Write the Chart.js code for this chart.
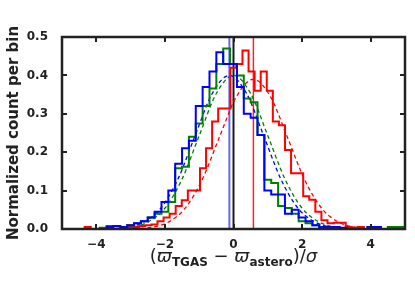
<!DOCTYPE html>
<html>
<head>
<meta charset="utf-8">
<script src="https://cdn.jsdelivr.net/npm/chart.js@4.4.1/dist/chart.umd.min.js"></script>
<style>
  html, body { margin: 0; padding: 0; background: #fff; }
</style>
</head>
<body>
<canvas id="chart" width="415" height="286"></canvas>
<script>
// bin edges: blue and green share a 0.2 grid, red has its own narrower bins
const oddEdges = [
  -5.1, -4.9, -4.7, -4.5, -4.3, -4.1, -3.9, -3.7, -3.5, -3.3,
  -3.1, -2.9, -2.7, -2.5, -2.3, -2.1, -1.9, -1.7, -1.5, -1.3,
  -1.1, -0.9, -0.7, -0.5, -0.3, -0.1, 0.1, 0.3, 0.5, 0.7,
  0.9, 1.1, 1.3, 1.5, 1.7, 1.9, 2.1, 2.3, 2.5, 2.7,
  2.9, 3.1, 3.3, 3.5, 3.7, 3.9, 4.1, 4.3, 4.5, 4.7, 4.9, 5.1
];
const redEdges = [
  -4.517, -4.340, -4.163, -3.986, -3.809, -3.632, -3.455, -3.278, -3.101, -2.924,
  -2.747, -2.570, -2.393, -2.216, -2.039, -1.862, -1.685, -1.508, -1.331, -1.154,
  -0.977, -0.800, -0.623, -0.446, -0.269, -0.092, 0.085, 0.262, 0.439, 0.616,
  0.793, 0.970, 1.147, 1.324, 1.501, 1.678, 1.855, 2.032, 2.209, 2.386,
  2.563, 2.740, 2.917, 3.094, 3.271, 3.448, 3.625, 3.802, 3.979, 4.156
];

// normalized counts per bin
const blueCounts = [
  0, 0, 0, 0, 0, 0, 0, 0, 0.005, 0.008,
  0.005, 0.01, 0.015, 0.02, 0.03, 0.045, 0.07, 0.10, 0.17, 0.21,
  0.23, 0.32, 0.37, 0.41, 0.46, 0.43, 0.43, 0.37, 0.30, 0.29,
  0.245, 0.10, 0.09, 0.09, 0.04, 0.05, 0.03, 0.02, 0.01, 0.005,
  0.005, 0.005, 0.003, 0, 0, 0, 0.005, 0.005, 0, 0, 0
];
const greenCounts = [
  0.005, 0, 0, 0, 0, 0, 0, 0.003, 0.008, 0.008,
  0.005, 0.01, 0.015, 0.02, 0.03, 0.04, 0.045, 0.07, 0.158, 0.162,
  0.24, 0.275, 0.32, 0.366, 0.43, 0.47, 0.43, 0.40, 0.34, 0.33,
  0.245, 0.128, 0.12, 0.06, 0.055, 0.04, 0.02, 0.015, 0.01, 0.005,
  0.005, 0.003, 0, 0, 0, 0, 0, 0.003, 0, 0.005, 0.005
];
const redCounts = [
  0, 0, 0.005, 0, 0, 0, 0, 0, 0.003, 0.005,
  0.005, 0.008, 0.01, 0.012, 0.02, 0.03, 0.04, 0.06, 0.075, 0.10,
  0.10, 0.158, 0.21, 0.28, 0.314, 0.314, 0.42, 0.43, 0.465, 0.41,
  0.36, 0.41, 0.36, 0.28, 0.27, 0.206, 0.145, 0.145, 0.085, 0.076,
  0.045, 0.023, 0.015, 0.016, 0.016, 0.005, 0.003, 0.005, 0
];

// dashed gaussian fits
const blueFitX = [-3.62, -3.12, -2.62, -2.12, -1.62, -1.12, -0.62, -0.12, 0.38, 0.88, 1.38, 1.88, 2.38, 2.88, 3.38];
const blueFitY = [0.001, 0.004, 0.018, 0.054, 0.13, 0.243, 0.353, 0.40, 0.353, 0.243, 0.13, 0.054, 0.018, 0.004, 0.001];
const greenFitX = [-3.5, -3.0, -2.5, -2.0, -1.5, -1.0, -0.5, 0.0, 0.5, 1.0, 1.5, 2.0, 2.5, 3.0, 3.5];
const greenFitY = [0.001, 0.004, 0.018, 0.054, 0.13, 0.243, 0.353, 0.40, 0.353, 0.243, 0.13, 0.054, 0.018, 0.004, 0.001];
const redFitX = [-2.92, -2.42, -1.92, -1.42, -0.92, -0.42, 0.08, 0.58, 1.08, 1.58, 2.08, 2.58, 3.08, 3.58, 4.08];
const redFitY = [0.001, 0.004, 0.017, 0.053, 0.127, 0.237, 0.344, 0.39, 0.344, 0.237, 0.127, 0.053, 0.017, 0.004, 0.001];

// vertical marker lines
const blueMean = -0.12;
const zeroLine = 0;
const redMean = 0.58;

const xTicks = [-4, -2, 0, 2, 4];
const yTicks = [0, 0.1, 0.2, 0.3, 0.4, 0.5];

function histPoints(edges, counts) {
  const pts = counts.map((v, i) => ({ x: edges[i], y: v }));
  pts.push({ x: edges[edges.length - 1], y: counts[counts.length - 1] });
  return pts;
}
function fitPoints(xs, ys) {
  return xs.map((x, i) => ({ x: x, y: ys[i] }));
}
function vline(x) {
  return [{ x: x, y: 0 }, { x: x, y: 0.5 }];
}

const histStyle = { stepped: 'after', borderWidth: 2, pointRadius: 0, fill: false };
const fitStyle = { borderWidth: 1.3, borderDash: [4, 3], pointRadius: 0, fill: false, cubicInterpolationMode: 'monotone' };

const frameAndTitle = {
  id: 'frameAndTitle',
  afterDraw(chart) {
    const ctx = chart.ctx;
    const a = chart.chartArea;
    const xs = chart.scales.x, ys = chart.scales.y;
    ctx.save();
    ctx.strokeStyle = '#222';
    ctx.lineWidth = 2;
    // inward ticks on all four sides
    xTicks.forEach(v => {
      const px = Math.round(xs.getPixelForValue(v));
      ctx.beginPath();
      ctx.moveTo(px, a.bottom); ctx.lineTo(px, a.bottom - 5);
      ctx.moveTo(px, a.top); ctx.lineTo(px, a.top + 5);
      ctx.stroke();
    });
    yTicks.forEach(v => {
      const py = Math.round(ys.getPixelForValue(v));
      ctx.beginPath();
      ctx.moveTo(a.left, py); ctx.lineTo(a.left + 5, py);
      ctx.moveTo(a.right, py); ctx.lineTo(a.right - 5, py);
      ctx.stroke();
    });
    ctx.lineWidth = 2.5;
    ctx.strokeRect(a.left, a.top, a.right - a.left, a.bottom - a.top);

    // x axis title: (ϖ_TGAS − ϖ_astero)/σ
    const big = '18px "DejaVu Sans"';
    const bigIt = 'oblique 18px "DejaVu Sans"';
    const sub = 'bold 12px "DejaVu Sans"';
    const parts = [
      { t: '(', f: big, dy: 0 },
      { t: 'ϖ', f: bigIt, dy: 0 },
      { t: 'TGAS', f: sub, dy: 4 },
      { t: ' − ', f: big, dy: 0 },
      { t: 'ϖ', f: bigIt, dy: 0 },
      { t: 'astero', f: sub, dy: 4 },
      { t: ')/', f: big, dy: 0 },
      { t: 'σ', f: bigIt, dy: 0 }
    ];
    let total = 0;
    parts.forEach(p => { ctx.font = p.f; p.w = ctx.measureText(p.t).width; total += p.w; });
    let cx = (a.left + a.right) / 2 - total / 2;
    const base = 262;
    ctx.fillStyle = '#222';
    ctx.textBaseline = 'alphabetic';
    parts.forEach(p => {
      ctx.font = p.f;
      ctx.fillText(p.t, cx, base + p.dy);
      cx += p.w;
    });
    ctx.restore();
  }
};

new Chart(document.getElementById('chart'), {
  type: 'line',
  data: {
    datasets: [
      Object.assign({ data: histPoints(oddEdges, blueCounts), borderColor: '#0000ff' }, histStyle),
      Object.assign({ data: histPoints(oddEdges, greenCounts), borderColor: '#008000' }, histStyle),
      Object.assign({ data: histPoints(redEdges, redCounts), borderColor: '#ff0000' }, histStyle),
      Object.assign({ data: fitPoints(blueFitX, blueFitY), borderColor: '#0000ff' }, fitStyle),
      Object.assign({ data: fitPoints(greenFitX, greenFitY), borderColor: '#008000' }, fitStyle),
      Object.assign({ data: fitPoints(redFitX, redFitY), borderColor: '#ff0000' }, fitStyle),
      { data: vline(blueMean), borderColor: '#6666ff', borderWidth: 2, pointRadius: 0 },
      { data: vline(zeroLine), borderColor: '#1a1a1a', borderWidth: 2, pointRadius: 0 },
      { data: vline(redMean), borderColor: '#ff2020', borderWidth: 1.5, pointRadius: 0 }
    ]
  },
  options: {
    responsive: false,
    animation: false,
    layout: { padding: { left: 0, right: 10, top: 37, bottom: 0 } },
    plugins: { legend: { display: false }, tooltip: { enabled: false } },
    scales: {
      x: {
        type: 'linear',
        min: -5, max: 5,
        grid: { display: false },
        border: { display: false },
        afterBuildTicks: s => { s.ticks = xTicks.map(v => ({ value: v })); },
        afterFit: s => { s.height = 57; },
        ticks: {
          padding: 1,
          color: '#222',
          font: { family: 'DejaVu Sans', size: 12, weight: 'bold' },
          callback: v => (v < 0 ? '\u2212' + Math.abs(v) : String(v))
        }
      },
      y: {
        min: 0, max: 0.5,
        grid: { display: false },
        border: { display: false },
        afterBuildTicks: s => { s.ticks = yTicks.map(v => ({ value: v })); },
        afterFit: s => { s.width = 62; },
        title: {
          display: true,
          text: 'Normalized count per bin',
          color: '#222',
          padding: { top: 5, bottom: 0 },
          font: { family: 'DejaVu Sans', size: 15, weight: 'bold' }
        },
        ticks: {
          padding: 6,
          color: '#222',
          font: { family: 'DejaVu Sans', size: 12, weight: 'bold' },
          callback: v => Number(v).toFixed(1)
        }
      }
    }
  },
  plugins: [frameAndTitle]
});
</script>
</body>
</html>
